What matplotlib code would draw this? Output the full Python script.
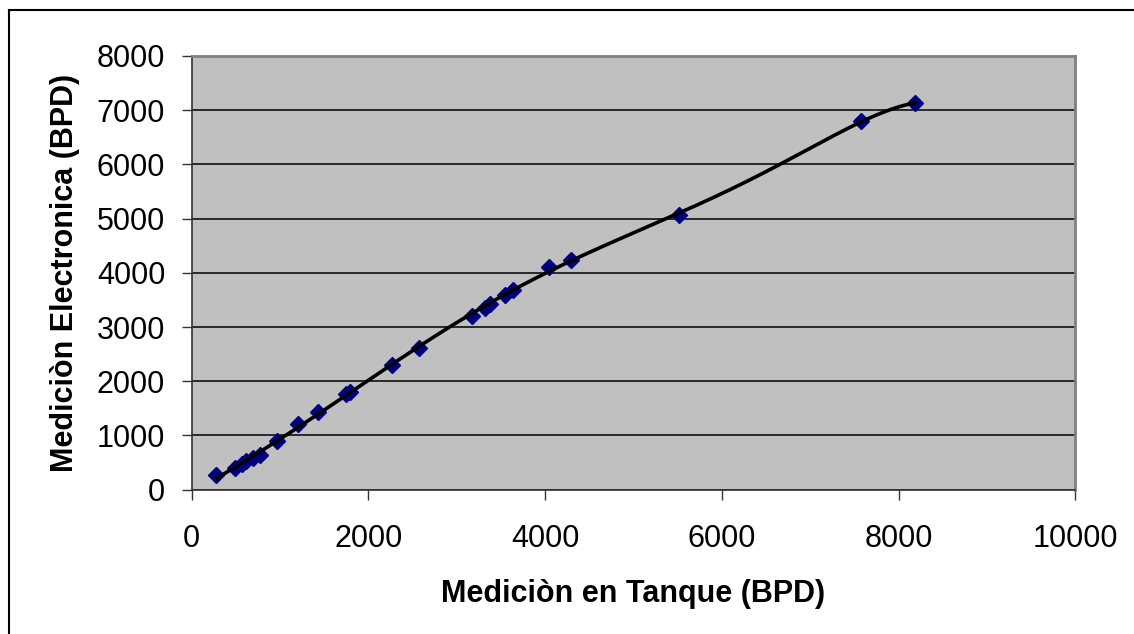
import numpy as np
import matplotlib
matplotlib.use("Agg")
import matplotlib.pyplot as plt
from matplotlib.lines import Line2D

# Datos: medición en tanque vs medición electrónica (BPD)
tanque = [280, 490, 570, 620, 700, 780, 970, 1200, 1430, 1750, 1790,
          2270, 2570, 3170, 3320, 3380, 3550, 3640, 4040, 4290, 5520,
          7580, 8190]
electronica = [265, 400, 475, 530, 580, 640, 900, 1220, 1440, 1760, 1800,
               2300, 2610, 3210, 3350, 3430, 3600, 3690, 4110, 4245, 5065,
               6800, 7130]

x_ticks = [0, 2000, 4000, 6000, 8000, 10000]
y_ticks = [0, 1000, 2000, 3000, 4000, 5000, 6000, 7000, 8000]

plt.rcParams['font.family'] = ['Liberation Sans', 'DejaVu Sans']

fig = plt.figure(figsize=(11.34, 6.34), dpi=100)
ax = fig.add_axes([0.1689, 0.2276, 0.9482 - 0.1689, 0.9117 - 0.2276])
ax.set_facecolor('#C0C0C0')

# puntos medidos
ax.plot(tanque, electronica, linestyle='none', marker='D', markersize=8.5,
        color='#000080', markeredgecolor='#000080', zorder=3)

# línea de tendencia polinómica
tend = np.polynomial.Polynomial.fit(tanque, electronica, 6)
xs = np.linspace(min(tanque), max(tanque), 300)
ax.plot(xs, tend(xs), color='black', linewidth=2.6, zorder=4)

ax.set_xlim(0, 10000)
ax.set_ylim(0, 8000)
ax.set_xticks(x_ticks)
ax.set_yticks(y_ticks)
ax.yaxis.grid(True, color='black', linewidth=1.1)
ax.set_axisbelow(True)

for side in ['top', 'right']:
    ax.spines[side].set_color('#808080')
    ax.spines[side].set_linewidth(2)
for side in ['left', 'bottom']:
    ax.spines[side].set_color('#333333')
    ax.spines[side].set_linewidth(1.2)

ax.tick_params(axis='both', direction='out', length=7, width=1, color='#333333',
               labelsize=22)
ax.tick_params(axis='x', pad=18)
ax.tick_params(axis='y', pad=12)

ax.set_xlabel('Mediciòn en Tanque (BPD)', fontsize=22, fontweight='bold', labelpad=18)
ax.set_ylabel('Mediciòn Electronica (BPD)', fontsize=22, fontweight='bold', labelpad=12)

# borde exterior (solo arriba e izquierda)
fig.add_artist(Line2D([0.0075, 0.0075], [0, 0.984], transform=fig.transFigure,
                      color='black', linewidth=1.5))
fig.add_artist(Line2D([0.0075, 1.0], [0.984, 0.984], transform=fig.transFigure,
                      color='black', linewidth=1.5))

fig.savefig('out.png', dpi=100)
